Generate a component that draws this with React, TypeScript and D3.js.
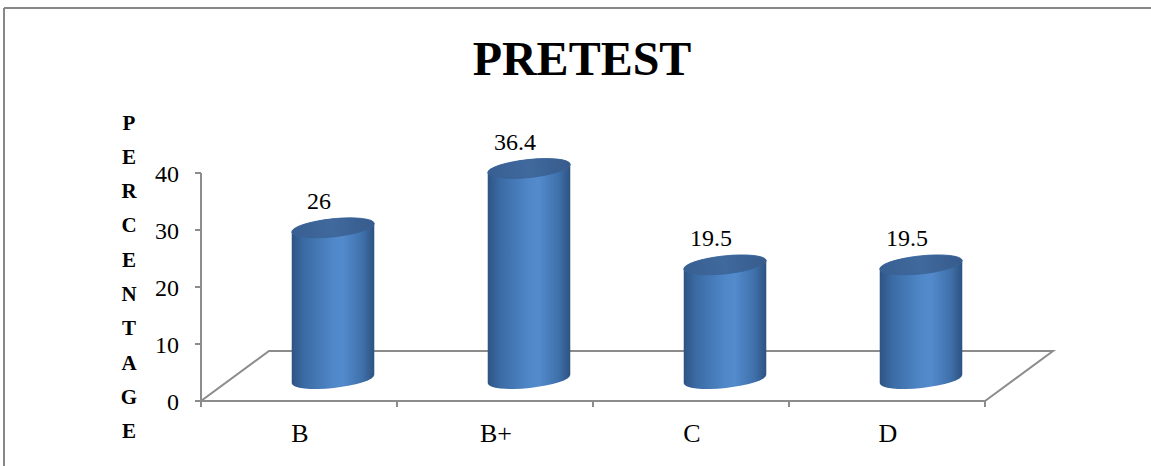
import React from "react";
import * as d3 from "d3";

const categories = ["B", "B+", "C", "D"];
const values = [26, 36.4, 19.5, 19.5];
const valueLabels = ["26", "36.4", "19.5", "19.5"];
const yTicks = [0, 10, 20, 30, 40];
const chartTitle = "PRETEST";
const yAxisTitle = "PERCENTAGE";

const W = 1151;
const H = 466;

export default function App() {
  const x0 = 201;
  const x1 = 985;
  const yBase = 401;
  const yTop = 173;
  const depthDx = 68;
  const depthDy = -50;

  const x = d3.scaleBand<string>().domain(categories).range([x0, x1]).paddingInner(0).paddingOuter(0);
  const y = d3.scaleLinear().domain([0, 40]).range([yBase, yTop]);

  const rx = 41.5;
  const ry = 9;
  const phi = (-6 * Math.PI) / 180;
  const pt = (cx: number, cy: number, t: number) => [
    cx + rx * Math.cos(t) * Math.cos(phi) - ry * Math.sin(t) * Math.sin(phi),
    cy + rx * Math.cos(t) * Math.sin(phi) + ry * Math.sin(t) * Math.cos(phi),
  ];
  const phiDeg = (phi * 180) / Math.PI;

  const floor = [
    [x0, yBase],
    [x1, yBase],
    [x1 + depthDx, yBase + depthDy],
    [x0 + depthDx, yBase + depthDy],
  ];

  const axisColor = "#8c8c8c";
  const letters = yAxisTitle.split("");

  return (
    <svg
      width={W}
      height={H}
      style={{ position: "absolute", left: 0, top: 0, background: "#fff", fontFamily: '"Liberation Serif"' }}
    >
      <defs>
        <linearGradient id="body" x1="0" y1="0" x2="1" y2="0">
          <stop offset="0%" stopColor="#2e5384" />
          <stop offset="15%" stopColor="#3b6ba4" />
          <stop offset="50%" stopColor="#4f87c8" />
          <stop offset="62%" stopColor="#538bcd" />
          <stop offset="86%" stopColor="#3f70aa" />
          <stop offset="100%" stopColor="#2e5281" />
        </linearGradient>
        <linearGradient id="top" x1="0" y1="0" x2="1" y2="0">
          <stop offset="0%" stopColor="#385f92" />
          <stop offset="50%" stopColor="#40699d" />
          <stop offset="100%" stopColor="#375b8c" />
        </linearGradient>
      </defs>

      {/* frame */}
      <line x1={4} y1={8} x2={W} y2={8} stroke="#878787" strokeWidth={2} />
      <line x1={4} y1={8} x2={4} y2={H} stroke="#878787" strokeWidth={2} />

      {/* title */}
      <text x={582} y={75} textAnchor="middle" fontSize={48} fontWeight="bold" fill="#000">
        {chartTitle}
      </text>

      {/* y axis title, stacked letters */}
      {letters.map((ch, i) => (
        <text key={i} x={129} y={129.5 + i * 34.3} textAnchor="middle" fontSize={21} fontWeight="bold" fill="#000">
          {ch}
        </text>
      ))}

      {/* floor */}
      <polygon
        points={floor.map((p) => p.join(",")).join(" ")}
        fill="none"
        stroke={axisColor}
        strokeWidth={2}
        strokeLinejoin="miter"
      />

      {/* y axis */}
      <line x1={x0} y1={y(40)} x2={x0} y2={y(0)} stroke={axisColor} strokeWidth={2} />
      {yTicks.map((t) => (
        <g key={t}>
          <line x1={x0 - 6} y1={y(t)} x2={x0} y2={y(t)} stroke={axisColor} strokeWidth={2} />
          <text x={179} y={y(t) + 8.5} textAnchor="end" fontSize={24} fill="#000">
            {t}
          </text>
        </g>
      ))}

      {/* x ticks */}
      {[...categories.map((c) => x(c) as number), x1].map((xv, i) => (
        <line key={i} x1={xv} y1={yBase} x2={xv} y2={yBase + 6} stroke={axisColor} strokeWidth={2} />
      ))}
      {categories.map((c) => (
        <text key={c} x={(x(c) as number) + x.bandwidth() / 2 + 1} y={442} textAnchor="middle" fontSize={26} fill="#000">
          {c}
        </text>
      ))}

      {/* cylinders */}
      {categories.map((c, i) => {
        const cx = (x(c) as number) + x.bandwidth() / 2 + depthDx / 2;
        const cyTop = y(values[i]) + depthDy / 2;
        const cyBot = y(0) + depthDy / 2 + 3;
        const Lt = pt(cx, cyTop, Math.PI);
        const Rt = pt(cx, cyTop, 0);
        const Lb = pt(cx, cyBot, Math.PI);
        const Rb = pt(cx, cyBot, 0);
        const d =
          `M${Lt[0]},${Lt[1]} L${Lb[0]},${Lb[1]} ` +
          `A${rx},${ry} ${phiDeg} 0 0 ${Rb[0]},${Rb[1]} ` +
          `L${Rt[0]},${Rt[1]} ` +
          `A${rx},${ry} ${phiDeg} 0 0 ${Lt[0]},${Lt[1]} Z`;
        return (
          <g key={c}>
            <path d={d} fill="url(#body)" />
            <ellipse
              cx={cx}
              cy={cyTop}
              rx={rx}
              ry={ry}
              transform={`rotate(${phiDeg} ${cx} ${cyTop})`}
              fill="url(#top)"
              stroke="#3a6398"
              strokeWidth={0.8}
            />
            <text x={cx - 14} y={cyTop - 19} textAnchor="middle" fontSize={24} fill="#000">
              {valueLabels[i]}
            </text>
          </g>
        );
      })}
    </svg>
  );
}
